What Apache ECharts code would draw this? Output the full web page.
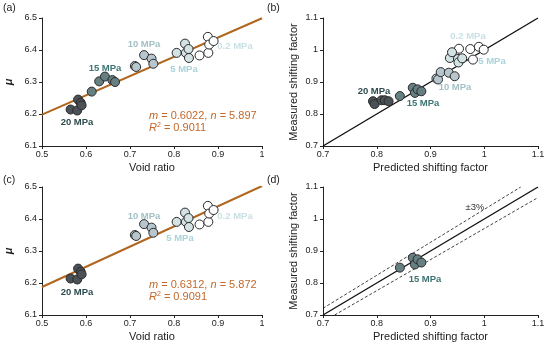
<!DOCTYPE html>
<html><head><meta charset="utf-8">
<script src="https://cdn.jsdelivr.net/npm/echarts@6/dist/echarts.min.js"></script>
<style>html,body{margin:0;padding:0;background:#fff}#c{width:550px;height:349px}</style>
</head><body><div id="c"></div>
<script>
// ---- data ----
const pressures = ['0.2 MPa', '5 MPa', '10 MPa', '15 MPa', '20 MPa'];
// Void ratio (e) and mu for panels (a)/(c)
const e_02 = [0.858, 0.877, 0.878, 0.880, 0.890];
const mu_02 = [6.383, 6.441, 6.391, 6.417, 6.428];
const e_5 = [0.806, 0.825, 0.827, 0.833, 0.834];
const mu_5 = [6.391, 6.420, 6.391, 6.403, 6.375];
const e_10 = [0.711, 0.714, 0.732, 0.749, 0.753];
const mu_10 = [6.350, 6.347, 6.384, 6.373, 6.357];
const e_15 = [0.613, 0.630, 0.643, 0.660, 0.666];
const mu_15 = [6.270, 6.302, 6.317, 6.306, 6.300];
const e_20 = [0.565, 0.580, 0.582, 0.588, 0.590];
const mu_20 = [6.214, 6.211, 6.245, 6.235, 6.227];
// Predicted / measured shifting factor, panel (b)
const pb_02 = [0.953, 0.974, 0.990, 0.999, 0.979];
const mb_02 = [1.004, 1.003, 1.010, 1.001, 0.970];
const pb_5 = [0.936, 0.940, 0.951, 0.952, 0.959];
const mb_5 = [0.975, 0.993, 0.972, 0.961, 0.974];
const pb_10 = [0.911, 0.914, 0.919, 0.934, 0.945];
const mb_10 = [0.911, 0.908, 0.931, 0.929, 0.918];
const pb_15 = [0.843, 0.867, 0.871, 0.876, 0.883];
const mb_15 = [0.856, 0.882, 0.866, 0.877, 0.871];
const pb_20 = [0.793, 0.796, 0.809, 0.815, 0.822];
const mb_20 = [0.840, 0.831, 0.843, 0.843, 0.840];
// panel (d)
const pd_15 = [0.843, 0.867, 0.871, 0.876, 0.883];
const md_15 = [0.848, 0.879, 0.858, 0.874, 0.864];
// fit parameters
const fitA = { m: 0.6022, n: 5.897, r2: 0.9011 };
const fitC = { m: 0.6312, n: 5.872, r2: 0.9091 };
const eRange = [0.5, 1.0];
const sfRange = [0.7, 1.1];
const band = 0.03;
// tick settings
const eTicks = { min: 0.5, max: 1, interval: 0.1 };
const muTicks = { min: 6.1, max: 6.5, interval: 0.1 };
const sfTicks = { min: 0.7, max: 1.1, interval: 0.1 };

// ---- styling ----
const FONT = 'Liberation Sans';
const fills = { '0.2 MPa': '#ffffff', '5 MPa': '#d3e2e5', '10 MPa': '#b7c6cc', '15 MPa': '#667f80', '20 MPa': '#4b5257' };
const labelColors = { '0.2 MPa': '#c9e1e4', '5 MPa': '#a9d4d9', '10 MPa': '#a3c0c6', '15 MPa': '#3e7572', '20 MPa': '#2f4b4f' };
const zip = (a, b) => a.map((v, i) => [v, b[i]]);

const grids = [
  { left: 42, top: 18, width: 220, height: 128 },
  { left: 323, top: 18, width: 215, height: 128 },
  { left: 42, top: 187, width: 220, height: 128 },
  { left: 323, top: 187, width: 215, height: 128 }
].map(g => Object.assign({ outerBoundsMode: 'none', containLabel: false }, g));

function axis(idx, ticks, name, isY, nameGap, nameStyle) {
  const fmt = v => {
    const r = Math.round(v * 10) / 10;
    return (r === 1) ? '1' : r.toFixed(1);
  };
  return {
    gridIndex: idx, type: 'value', min: ticks.min, max: ticks.max, interval: ticks.interval,
    name: name, nameLocation: 'middle', nameGap: nameGap, nameRotate: isY ? 90 : 0,
    nameTextStyle: Object.assign({ fontFamily: FONT, fontSize: 11, color: '#222' }, nameStyle || {}),
    axisLine: { show: true, onZero: false, lineStyle: { color: '#222', width: 1 } },
    axisTick: { show: true, inside: false, length: 3, lineStyle: { color: '#222' } },
    axisLabel: { fontFamily: FONT, fontSize: 9, color: '#222', margin: isY ? 5 : 4, formatter: fmt, showMinLabel: true, showMaxLabel: true },
    splitLine: { show: false }
  };
}

const xAxes = [
  axis(0, eTicks, 'Void ratio', false, 16),
  axis(1, sfTicks, 'Predicted shifting factor', false, 16),
  axis(2, eTicks, 'Void ratio', false, 16),
  axis(3, sfTicks, 'Predicted shifting factor', false, 16)
];
const yAxes = [
  axis(0, muTicks, 'μ', true, 28, { fontStyle: 'italic', fontWeight: 'bold', fontSize: 11 }),
  axis(1, sfTicks, 'Measured shifting factor', true, 24),
  axis(2, muTicks, 'μ', true, 28, { fontStyle: 'italic', fontWeight: 'bold', fontSize: 11 }),
  axis(3, sfTicks, 'Measured shifting factor', true, 24)
];

const series = [];
function scatter(gi, p, data) {
  series.push({
    type: 'scatter', xAxisIndex: gi, yAxisIndex: gi, data: data, symbol: 'circle', symbolSize: 9,
    itemStyle: { color: fills[p], borderColor: '#2a2a2a', borderWidth: 1, opacity: 1 }, z: 5, silent: true
  });
}
function line(gi, data, color, width, type) {
  series.push({
    type: 'line', xAxisIndex: gi, yAxisIndex: gi, data: data, symbol: 'none', silent: true,
    lineStyle: { color: color, width: width, type: type || 'solid' }, z: 3
  });
}
// fit lines
line(0, eRange.map(x => [x, fitA.m * x + fitA.n]), '#b0661f', 2);
line(2, eRange.map(x => [x, fitC.m * x + fitC.n]), '#b0661f', 2);
// 1:1 lines
line(1, sfRange.map(x => [x, x]), '#111', 1.4);
line(3, sfRange.map(x => [x, x]), '#111', 1.4);
line(3, [[sfRange[0], sfRange[0] * (1 + band)], [sfRange[1] / (1 + band), sfRange[1]]], '#111', 0.8, [3, 2]);
line(3, [[sfRange[0] / (1 - band), sfRange[0]], [sfRange[1], sfRange[1] * (1 - band)]], '#111', 0.8, [3, 2]);

// panel (a)
scatter(0, '0.2 MPa', zip(e_02, mu_02));
scatter(0, '5 MPa', zip(e_5, mu_5));
scatter(0, '10 MPa', zip(e_10, mu_10));
scatter(0, '15 MPa', zip(e_15, mu_15));
scatter(0, '20 MPa', zip(e_20, mu_20));
// panel (b)
scatter(1, '0.2 MPa', zip(pb_02, mb_02));
scatter(1, '5 MPa', zip(pb_5, mb_5));
scatter(1, '10 MPa', zip(pb_10, mb_10));
scatter(1, '15 MPa', zip(pb_15, mb_15));
scatter(1, '20 MPa', zip(pb_20, mb_20));
// panel (c)
scatter(2, '0.2 MPa', zip(e_02, mu_02));
scatter(2, '5 MPa', zip(e_5, mu_5));
scatter(2, '10 MPa', zip(e_10, mu_10));
scatter(2, '20 MPa', zip(e_20, mu_20));
// panel (d)
scatter(3, '15 MPa', zip(pd_15, md_15));

function txt(x, y, text, color, opts) {
  return {
    type: 'text', x: x, y: y, silent: true, z: 10,
    style: Object.assign({ text: text, fill: color, font: 'bold 9.5px "Liberation Sans"', align: 'center', verticalAlign: 'middle' }, opts || {})
  };
}
function eq(x, y, fit) {
  return {
    type: 'text', x: x, y: y, silent: true, z: 10,
    style: {
      text: '{i|m} = ' + fit.m.toFixed(4) + ', {i|n} = ' + fit.n.toFixed(3) + '\n{i|R}{s|2} = ' + fit.r2.toFixed(4),
      fill: '#c2682b', font: '11px "Liberation Sans"', lineHeight: 12, align: 'left', verticalAlign: 'middle',
      rich: {
        i: { fontStyle: 'italic', fontSize: 11, fontFamily: FONT, fill: '#c2682b' },
        s: { fontSize: 7, fontFamily: FONT, fill: '#c2682b', verticalAlign: 'top', padding: [0, 0, 5, 0] }
      }
    }
  };
}
const P = { font: '10.5px "Liberation Sans"', align: 'left' };
const graphic = [
  txt(3, 8, '(a)', '#222', P), txt(267, 8, '(b)', '#222', P), txt(3, 180, '(c)', '#222', P), txt(267, 180, '(d)', '#222', P),
  // (a)
  txt(144, 44, '10 MPa', labelColors['10 MPa']), txt(105, 68, '15 MPa', labelColors['15 MPa']),
  txt(77, 122, '20 MPa', labelColors['20 MPa']), txt(184, 69, '5 MPa', labelColors['5 MPa']),
  txt(235, 46, '0.2 MPa', labelColors['0.2 MPa']),
  eq(149, 122, fitA),
  // (b)
  txt(468, 36, '0.2 MPa', labelColors['0.2 MPa']), txt(492, 61, '5 MPa', labelColors['5 MPa']),
  txt(455, 87, '10 MPa', labelColors['10 MPa']), txt(374, 91, '20 MPa', labelColors['20 MPa']),
  txt(423, 103, '15 MPa', labelColors['15 MPa']),
  // (c)
  txt(144, 216, '10 MPa', labelColors['10 MPa']), txt(180, 238, '5 MPa', labelColors['5 MPa']),
  txt(235, 216, '0.2 MPa', labelColors['0.2 MPa']), txt(77, 292, '20 MPa', labelColors['20 MPa']),
  eq(149, 291, fitC),
  // (d)
  txt(475, 207, '±3%', '#333', { font: '9.5px "Liberation Sans"' }),
  txt(425, 279, '15 MPa', labelColors['15 MPa'])
];

const chart = echarts.init(document.getElementById('c'), null, { renderer: 'canvas' });
chart.setOption({
  animation: false, backgroundColor: '#fff',
  grid: grids, xAxis: xAxes, yAxis: yAxes, series: series, graphic: graphic
});
</script></body></html>
